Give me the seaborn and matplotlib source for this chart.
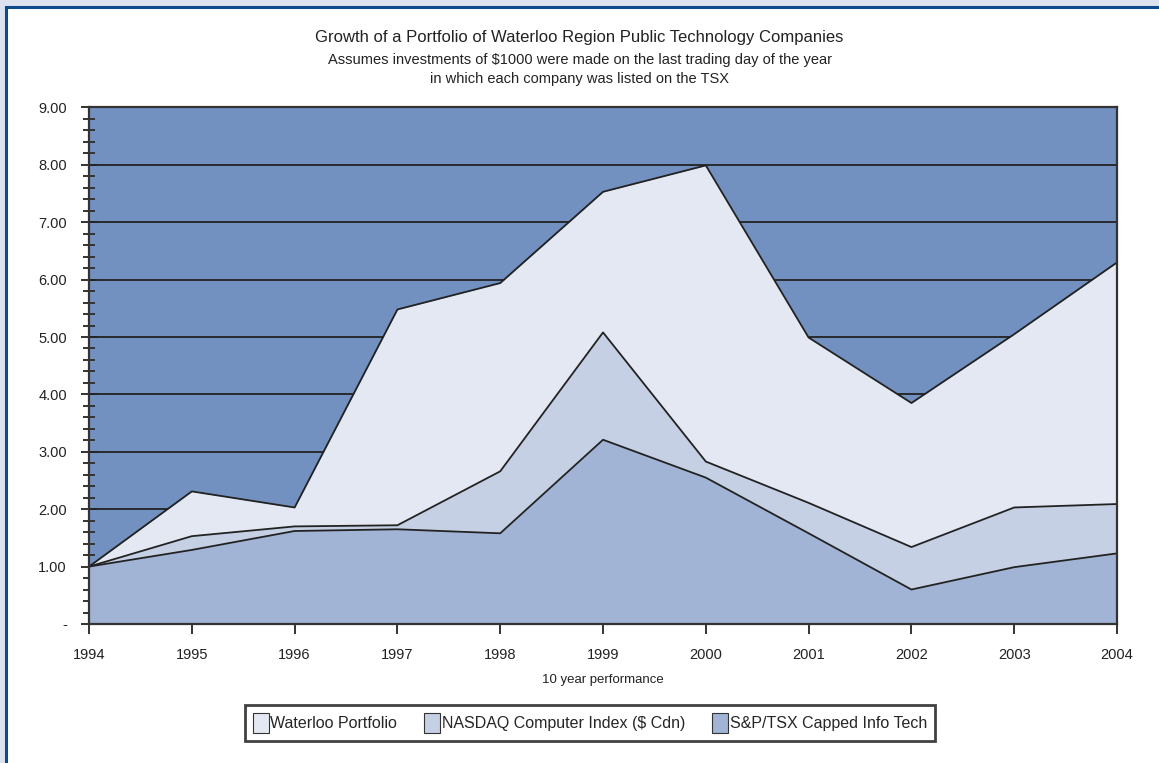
import matplotlib
matplotlib.use("Agg")
import matplotlib.pyplot as plt
from matplotlib.patches import Patch, Rectangle
from matplotlib.ticker import MultipleLocator, FuncFormatter
import seaborn as sns
import pandas as pd

# data
years = [1994, 1995, 1996, 1997, 1998, 1999, 2000, 2001, 2002, 2003, 2004]
waterloo = [1.00, 2.31, 2.03, 5.48, 5.94, 7.53, 7.99, 4.99, 3.85, 5.05, 6.30]
nasdaq = [1.00, 1.53, 1.70, 1.72, 2.66, 5.08, 2.83, 2.11, 1.34, 2.03, 2.09]
sptsx = [1.00, 1.29, 1.62, 1.65, 1.58, 3.21, 2.55, 1.58, 0.60, 0.99, 1.23]
series_names = ["Waterloo Portfolio", "NASDAQ Computer Index ($ Cdn)", "S&P/TSX Capped Info Tech"]

colors = ["#e3e8f2", "#c5d0e4", "#a1b4d5"]
plot_bg = "#7391c0"

df = pd.DataFrame({"year": years, series_names[0]: waterloo,
                   series_names[1]: nasdaq, series_names[2]: sptsx})
long_df = df.melt(id_vars="year", var_name="series", value_name="value")

sns.set_theme(style="white")
plt.rcParams["font.family"] = ["Liberation Sans", "DejaVu Sans"]

fig = plt.figure(figsize=(11.59, 7.63), dpi=100)
fig.patch.set_facecolor("#dce3ee")
# white page with dark blue frame
fig.patches.append(Rectangle((0.0048, -0.05), 1.1, 1.041, transform=fig.transFigure,
                             facecolor="white", edgecolor="#0c4a8c", linewidth=2.2, zorder=-1))

ax = fig.add_axes([0.0768, 0.1822, 0.887, 0.677])
ax.set_facecolor(plot_bg)

# filled areas, largest first
for name, col in zip(series_names, colors):
    ax.fill_between(df["year"], 0, df[name], color=col, zorder=2, linewidth=0)

sns.lineplot(data=long_df, x="year", y="value", hue="series",
             palette=["#222222"] * 3, linewidth=1.3, legend=False, ax=ax, zorder=3)

# gridlines
for v in range(1, 9):
    ax.axhline(v, color="#222222", linewidth=1.3, zorder=1)

ax.set_xlim(1994, 2004)
ax.set_ylim(0, 9)
ax.set_xticks(years)
ax.set_xticklabels([str(y) for y in years])
ax.yaxis.set_major_locator(MultipleLocator(1.0))
ax.yaxis.set_minor_locator(MultipleLocator(0.2))
ax.yaxis.set_major_formatter(FuncFormatter(lambda v, p: "-" if abs(v) < 1e-9 else f"{v:.2f}"))

for s in ax.spines.values():
    s.set_color("#333333")
    s.set_linewidth(1.6)
    s.set_zorder(4)

ax.tick_params(axis="y", which="major", direction="inout", length=12, width=1.4,
               color="#333333", labelsize=10.5, pad=10, left=True)
ax.tick_params(axis="y", which="minor", direction="inout", length=8, width=1.4,
               color="#333333", left=True)
ax.tick_params(axis="x", which="major", direction="out", length=7, width=1.4,
               color="#333333", labelsize=10.5, pad=10, bottom=True)
for lab in ax.get_xticklabels() + ax.get_yticklabels():
    lab.set_color("#222222")

ax.set_xlabel("10 year performance", fontsize=9.5, color="#222222", labelpad=9)
ax.set_ylabel("")

fig.text(0.5, 0.951, "Growth of a Portfolio of Waterloo Region Public Technology Companies",
         ha="center", va="center", fontsize=12, color="#222222")
fig.text(0.5, 0.922, "Assumes investments of $1000 were made on the last trading day of the year",
         ha="center", va="center", fontsize=10.5, color="#222222")
fig.text(0.5, 0.896, "in which each company was listed on the TSX",
         ha="center", va="center", fontsize=10.5, color="#222222")

handles = [Patch(facecolor=c, edgecolor="#333333", linewidth=0.8) for c in colors]
leg = fig.legend(handles, series_names, loc="center", bbox_to_anchor=(0.509, 0.0524),
                 ncol=3, frameon=True, fancybox=False, fontsize=11.5,
                 handlelength=1.0, handleheight=1.55, handletextpad=0.1,
                 columnspacing=1.7, borderpad=0.5)
leg.get_frame().set_edgecolor("#111111")
leg.get_frame().set_linewidth(2.0)

fig.savefig("out.png", dpi=100, facecolor=fig.get_facecolor())
